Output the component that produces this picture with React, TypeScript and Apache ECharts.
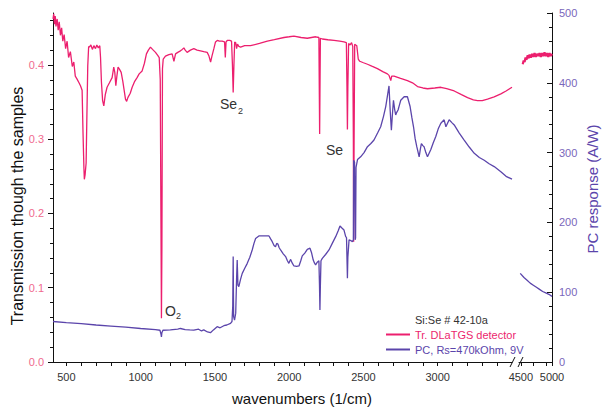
import React, { useEffect, useRef } from "react";
import * as echarts from "echarts";

// Transmission (left axis), main segment 410–3500 cm-1
const transWn = [410, 415, 420, 425, 430, 438, 445, 452, 460, 468, 476, 485, 495, 505, 515, 527, 540, 550, 560, 572, 585, 595, 606, 612, 618, 621, 626, 633, 638, 644, 650, 655, 665, 675, 685, 696, 705, 715, 725, 730, 736, 744, 752, 762, 774, 790, 808, 819, 826, 833, 840, 848, 858, 869, 880, 898, 906, 914, 930, 943, 960, 976, 990, 1010, 1025, 1039, 1052, 1066, 1080, 1100, 1115, 1125, 1132, 1137, 1140, 1143, 1147, 1152, 1167, 1190, 1212, 1224, 1235, 1250, 1268, 1280, 1291, 1300, 1313, 1335, 1358, 1380, 1403, 1425, 1448, 1460, 1471, 1480, 1493, 1504, 1516, 1530, 1549, 1565, 1570, 1575, 1583, 1600, 1612, 1618, 1623, 1628, 1633, 1640, 1646, 1652, 1661, 1673, 1700, 1740, 1800, 1853, 1900, 1965, 2000, 2032, 2080, 2122, 2150, 2178, 2200, 2203, 2205, 2207, 2210, 2223, 2260, 2302, 2340, 2369, 2385, 2389, 2392, 2395, 2400, 2410, 2420, 2428, 2432, 2434, 2437, 2441, 2455, 2465, 2475, 2500, 2527, 2560, 2594, 2630, 2661, 2672, 2684, 2690, 2706, 2750, 2796, 2830, 2864, 2900, 2931, 2980, 3021, 3060, 3111, 3160, 3201, 3240, 3268, 3300, 3335, 3380, 3425, 3460, 3500];
const transVal = [0.462, 0.469, 0.455, 0.466, 0.452, 0.462, 0.447, 0.458, 0.44, 0.45, 0.432, 0.441, 0.422, 0.432, 0.41, 0.418, 0.398, 0.404, 0.385, 0.381, 0.376, 0.372, 0.366, 0.309, 0.262, 0.246, 0.252, 0.268, 0.33, 0.399, 0.425, 0.424, 0.427, 0.421, 0.426, 0.422, 0.427, 0.423, 0.426, 0.41, 0.377, 0.352, 0.345, 0.36, 0.37, 0.376, 0.383, 0.397, 0.39, 0.372, 0.385, 0.397, 0.394, 0.39, 0.378, 0.354, 0.351, 0.356, 0.362, 0.37, 0.378, 0.383, 0.388, 0.392, 0.402, 0.415, 0.42, 0.424, 0.421, 0.417, 0.413, 0.41, 0.38, 0.18, 0.059, 0.15, 0.395, 0.408, 0.412, 0.414, 0.415, 0.405, 0.415, 0.417, 0.419, 0.421, 0.423, 0.42, 0.417, 0.42, 0.422, 0.42, 0.419, 0.418, 0.417, 0.412, 0.404, 0.412, 0.422, 0.431, 0.433, 0.432, 0.432, 0.431, 0.41, 0.431, 0.433, 0.433, 0.432, 0.4, 0.363, 0.4, 0.431, 0.43, 0.422, 0.428, 0.425, 0.424, 0.426, 0.426, 0.429, 0.432, 0.434, 0.437, 0.438, 0.439, 0.437, 0.436, 0.437, 0.438, 0.437, 0.36, 0.307, 0.36, 0.436, 0.435, 0.434, 0.433, 0.432, 0.431, 0.43, 0.37, 0.313, 0.37, 0.429, 0.427, 0.43, 0.425, 0.3, 0.162, 0.3, 0.428, 0.426, 0.408, 0.405, 0.403, 0.401, 0.398, 0.395, 0.391, 0.388, 0.386, 0.379, 0.385, 0.385, 0.382, 0.379, 0.376, 0.371, 0.369, 0.368, 0.369, 0.37, 0.368, 0.365, 0.36, 0.356, 0.353, 0.352, 0.352, 0.354, 0.357, 0.361, 0.365, 0.37];

// Transmission after the axis break
const transWn2 = [4530, 4545, 4560, 4575, 4590, 4610, 4625, 4640, 4660, 4680, 4700, 4720, 4740, 4760, 4780, 4800, 4820, 4840, 4860, 4880, 4900, 4920, 4940, 4960, 4980, 5000];
const transVal2 = [0.401, 0.406, 0.404, 0.41, 0.407, 0.413, 0.409, 0.414, 0.41, 0.415, 0.411, 0.416, 0.411, 0.415, 0.412, 0.416, 0.411, 0.416, 0.412, 0.417, 0.412, 0.416, 0.411, 0.416, 0.412, 0.415];

// PC response (right axis, A/W), main segment
const pcWn = [410, 500, 600, 700, 800, 900, 1000, 1100, 1130, 1137, 1140, 1143, 1150, 1200, 1250, 1268, 1300, 1330, 1358, 1390, 1410, 1425, 1450, 1470, 1490, 1515, 1535, 1560, 1580, 1605, 1615, 1620, 1623, 1626, 1632, 1640, 1646, 1650, 1655, 1661, 1672, 1684, 1700, 1717, 1735, 1751, 1763, 1774, 1796, 1830, 1864, 1876, 1886, 1898, 1908, 1916, 1924, 1932, 1942, 1960, 1976, 1988, 1998, 2005, 2010, 2020, 2032, 2050, 2066, 2078, 2088, 2105, 2122, 2140, 2150, 2162, 2170, 2178, 2189, 2200, 2204, 2207, 2210, 2214, 2223, 2245, 2268, 2290, 2313, 2330, 2342, 2355, 2369, 2380, 2386, 2390, 2392, 2395, 2403, 2415, 2425, 2432, 2434, 2440, 2444, 2447, 2450, 2460, 2481, 2504, 2527, 2550, 2571, 2595, 2616, 2635, 2650, 2662, 2672, 2680, 2688, 2695, 2702, 2710, 2717, 2725, 2733, 2742, 2751, 2774, 2796, 2814, 2826, 2837, 2848, 2859, 2875, 2883, 2890, 2900, 2908, 2920, 2931, 2953, 2970, 2987, 3005, 3021, 3043, 3055, 3066, 3077, 3095, 3111, 3145, 3178, 3212, 3246, 3280, 3313, 3346, 3380, 3425, 3460, 3500];
const pcVal = [58, 56.5, 55, 53, 51.5, 50, 48, 46.5, 45.5, 40, 36, 42, 45.5, 46, 47, 48, 46.5, 46, 45.8, 47, 44.5, 46, 43, 42, 46, 50.6, 49, 52, 53, 55.4, 58, 80, 151, 65, 60, 70, 120, 146, 110, 108, 118, 127, 134, 141, 150, 160.5, 170, 177, 180.6, 180.6, 180.6, 176, 172.4, 167, 165, 170, 169, 164, 160.5, 155, 151, 145, 141.4, 145, 147, 142, 137.6, 137, 137.6, 145, 152, 156, 161.5, 163, 157, 146, 142, 139, 143, 145, 110, 74.5, 110, 145, 148.5, 154, 160.5, 170, 179.6, 188, 194.9, 192, 189, 180, 178, 140, 119.9, 150, 175, 174, 172.4, 175, 289, 286, 175, 178, 279, 290, 294, 300, 308.5, 313, 318, 328, 337, 352, 366, 382, 395.5, 360, 332, 355, 375, 362, 354, 358, 361, 368, 375, 380, 380, 366, 350, 337, 320, 308.5, 294, 305, 313, 310, 308.5, 300, 294, 304, 314, 323, 335, 342, 347, 337, 342, 347, 343, 339.6, 328, 318, 308, 299, 293, 289, 284, 280, 272.6, 266, 262];

// PC response after the axis break
const pcWn2 = [4490, 4550, 4600, 4650, 4700, 4750, 4800, 4850, 4900, 4950, 5000];
const pcVal2 = [127, 121, 117, 113, 110, 107, 104, 101, 99, 97, 94];

// Tick labels
const xLabels1 = [500, 1000, 1500, 2000, 2500, 3000];
const xTicks1 = [500, 600, 700, 800, 900, 1000, 1100, 1200, 1300, 1400, 1500, 1600, 1700, 1800, 1900, 2000, 2100, 2200, 2300, 2400, 2500, 2600, 2700, 2800, 2900, 3000, 3100, 3200, 3300, 3400];
const xLabels2 = [4500, 5000];
const xTicks2 = [4500, 4700, 4900, 5000];
const yLeftLabels = [0, 0.1, 0.2, 0.3, 0.4];
const yLeftMinor = [0.02, 0.04, 0.06, 0.08, 0.12, 0.14, 0.16, 0.18, 0.22, 0.24, 0.26, 0.28, 0.32, 0.34, 0.36, 0.38, 0.42, 0.44, 0.46];

const RED = "#ec1f6e";
const PURPLE = "#5b45ab";
const FONT = "Liberation Sans, Arial, sans-serif";

const zip = (a: number[], b: number[]) => a.map((v, i) => [v, b[i]]);

export default function App() {
  const ref = useRef<HTMLDivElement>(null);
  useEffect(() => {
    const chart = echarts.init(ref.current!, null, { renderer: "svg" });
    const axisLine = { show: true, lineStyle: { color: "#111", width: 1 } };
    const plain = (v: number) => String(v);
    const option: any = {
      animation: false,
      backgroundColor: "#fff",
      textStyle: { fontFamily: FONT },
      grid: [
        { left: 53, right: 91, top: 13, bottom: 48 },
        { left: 519, right: 51, top: 13, bottom: 48 },
      ],
      xAxis: [
        {
          type: "value", gridIndex: 0, min: 410, max: 3500,
          axisLine: { ...axisLine, onZero: false },
          splitLine: { show: false },
          axisTick: { show: true, customValues: xTicks1, length: 4, lineStyle: { color: "#111" } },
          axisLabel: { customValues: xLabels1, color: "#333", fontSize: 11, margin: 9, fontFamily: FONT, formatter: plain },
        },
        {
          type: "value", gridIndex: 1, min: 4470, max: 5000,
          axisLine: { ...axisLine, onZero: false },
          splitLine: { show: false },
          axisTick: { show: true, customValues: xTicks2, length: 4, lineStyle: { color: "#111" } },
          axisLabel: { customValues: xLabels2, color: "#333", fontSize: 11, margin: 9, fontFamily: FONT, formatter: plain },
        },
      ],
      yAxis: [
        {
          type: "value", gridIndex: 0, position: "left", min: 0, max: 0.47,
          axisLine,
          splitLine: { show: false },
          axisTick: { show: true, customValues: yLeftLabels, length: 5, lineStyle: { color: "#111" } },
          axisLabel: { customValues: yLeftLabels, color: "#f06a8e", fontSize: 11, margin: 9, fontFamily: FONT, formatter: (v: number) => v.toFixed(1) },
        },
        { type: "value", gridIndex: 0, position: "right", min: 0, max: 500, show: false },
        { type: "value", gridIndex: 1, position: "left", min: 0, max: 0.47, show: false },
        {
          type: "value", gridIndex: 1, position: "right", min: 0, max: 500, interval: 100,
          axisLine,
          splitLine: { show: false },
          axisTick: { show: true, inside: true, length: 5, lineStyle: { color: "#111" } },
          minorTick: { show: true, splitNumber: 5, length: 3, lineStyle: { color: "#111" } },
          axisLabel: { color: "#7a66bb", fontSize: 11, margin: 7, fontFamily: FONT },
        },
        {
          type: "value", gridIndex: 0, position: "left", min: 0, max: 0.47,
          axisLine: { show: false },
          splitLine: { show: false },
          axisTick: { show: true, customValues: yLeftMinor, length: 3, lineStyle: { color: "#111" } },
          axisLabel: { show: false },
        },
      ],
      legend: {
        left: 386, top: 328, orient: "vertical", itemGap: 2, itemWidth: 24, itemHeight: 2,
        icon: "rect", padding: 0,
        textStyle: { fontSize: 11, fontFamily: FONT, lineHeight: 13 },
        data: [
          { name: "Tr. DLaTGS detector", textStyle: { color: RED } },
          { name: "PC, Rs=470kOhm, 9V", textStyle: { color: PURPLE } },
        ],
      },
      series: [
        {
          name: "Tr. DLaTGS detector", type: "line", xAxisIndex: 0, yAxisIndex: 0,
          data: zip(transWn, transVal), showSymbol: false, symbol: "none",
          lineStyle: { color: RED, width: 1.3 }, itemStyle: { color: RED },
        },
        {
          name: "Tr. DLaTGS detector", type: "line", xAxisIndex: 1, yAxisIndex: 2,
          data: zip(transWn2, transVal2), showSymbol: false, symbol: "none",
          lineStyle: { color: RED, width: 2.2 }, itemStyle: { color: RED },
        },
        {
          name: "PC, Rs=470kOhm, 9V", type: "line", xAxisIndex: 0, yAxisIndex: 1,
          data: zip(pcWn, pcVal), showSymbol: false, symbol: "none",
          lineStyle: { color: PURPLE, width: 1.3 }, itemStyle: { color: PURPLE },
        },
        {
          name: "PC, Rs=470kOhm, 9V", type: "line", xAxisIndex: 1, yAxisIndex: 3,
          data: zip(pcWn2, pcVal2), showSymbol: false, symbol: "none",
          lineStyle: { color: PURPLE, width: 1.3 }, itemStyle: { color: PURPLE },
        },
      ],
      graphic: [
        { type: "text", x: 17, y: 206, rotation: Math.PI / 2, style: { text: "Transmission though the samples", fontSize: 16, fill: "#111", align: "center", verticalAlign: "middle", fontFamily: FONT } },
        { type: "text", x: 592, y: 189, rotation: Math.PI / 2, style: { text: "PC response (A/W)", fontSize: 15, fill: PURPLE, align: "center", verticalAlign: "middle", fontFamily: FONT } },
        { type: "text", x: 302, y: 398, style: { text: "wavenumbers (1/cm)", fontSize: 15, fill: "#111", align: "center", verticalAlign: "middle", fontFamily: FONT } },
        { type: "text", x: 415, y: 320, style: { text: "Si:Se # 42-10a", fontSize: 11, fill: "#333", align: "left", verticalAlign: "middle", fontFamily: FONT } },
        { type: "text", x: 220, y: 104, style: { text: "Se", fontSize: 14, fill: "#333", align: "left", verticalAlign: "middle", fontFamily: FONT } },
        { type: "text", x: 238, y: 111, style: { text: "2", fontSize: 9, fill: "#333", align: "left", verticalAlign: "middle", fontFamily: FONT } },
        { type: "text", x: 326, y: 150, style: { text: "Se", fontSize: 14, fill: "#333", align: "left", verticalAlign: "middle", fontFamily: FONT } },
        { type: "text", x: 165, y: 311, style: { text: "O", fontSize: 14, fill: "#333", align: "left", verticalAlign: "middle", fontFamily: FONT } },
        { type: "text", x: 176, y: 316, style: { text: "2", fontSize: 9, fill: "#333", align: "left", verticalAlign: "middle", fontFamily: FONT } },
        { type: "line", shape: { x1: 510, y1: 367, x2: 515, y2: 357 }, style: { stroke: "#111", lineWidth: 1 } },
        { type: "line", shape: { x1: 518, y1: 367, x2: 523, y2: 357 }, style: { stroke: "#111", lineWidth: 1 } },
      ],
    };
    chart.setOption(option);
    return () => chart.dispose();
  }, []);
  return <div ref={ref} style={{ position: "fixed", left: 0, top: 0, width: 603, height: 410 }} />;
}
